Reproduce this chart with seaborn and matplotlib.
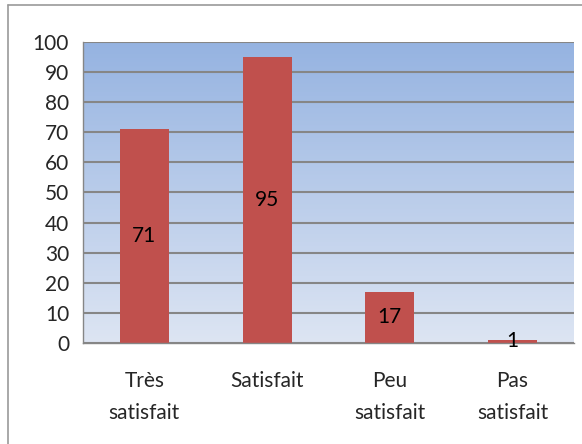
import numpy as np
import pandas as pd
import matplotlib
matplotlib.use("Agg")
import matplotlib.pyplot as plt
from matplotlib.lines import Line2D
import seaborn as sns

categories = ["Très\nsatisfait", "Satisfait", "Peu\nsatisfait", "Pas\nsatisfait"]
values = [71, 95, 17, 1]
y_ticks = [0, 10, 20, 30, 40, 50, 60, 70, 80, 90, 100]

sns.set_style("white")
plt.rcParams["font.family"] = ["Lato", "DejaVu Sans"]

df = pd.DataFrame({"cat": categories, "val": values})

fig = plt.figure(figsize=(5.82, 4.44), dpi=100)
ax = fig.add_axes([83/582, 1-343/444, (574-83)/582, (343-42)/444])

# gradient background
top = np.array([149, 179, 225]) / 255
bot = np.array([221, 229, 243]) / 255
t = np.linspace(0, 1, 256)[:, None]
grad = (top[None, :] * (1 - t) + bot[None, :] * t)[:, None, :]
ax.imshow(grad, extent=[0, 1, 0, 1], transform=ax.transAxes, aspect="auto", zorder=-2)

sns.barplot(data=df, x="cat", y="val", color="#C0504D", saturation=1, width=0.4,
            linewidth=0, edgecolor="none", ax=ax, zorder=2)

ax.set_ylim(0, 100)
ax.set_xlim(-0.5, len(categories) - 0.5)
ax.set_yticks(y_ticks)
ax.set_yticklabels([str(v) for v in y_ticks], fontsize=15)
ax.yaxis.grid(True, color="#868686", linewidth=1.5, zorder=0)
ax.set_axisbelow(True)
ax.set_xlabel("")
ax.set_ylabel("")

ax.set_xticks(range(len(categories)))
ax.set_xticklabels(categories, fontsize=15, linespacing=1.75)
ax.tick_params(axis="x", length=0, pad=20)
ax.set_xticks(np.arange(-0.5, len(categories), 1.0), minor=True)
ax.tick_params(axis="x", which="minor", length=7, width=1, color="#868686", direction="out")
ax.tick_params(axis="y", length=7, width=1, color="#868686", direction="out", pad=3)

for s in ["top", "right"]:
    ax.spines[s].set_visible(False)
for s in ["left", "bottom"]:
    ax.spines[s].set_color("#868686")
    ax.spines[s].set_linewidth(1)

for c in ax.containers:
    ax.bar_label(c, labels=[str(v) for v in values], label_type="center", fontsize=15, color="black")

# outer chart border (partially cropped in reference)
fig.add_artist(Line2D([8/582, 8/582], [0, 1-5/444], transform=fig.transFigure, color="#9a9a9a", lw=1.2))
fig.add_artist(Line2D([8/582, 1], [1-5/444, 1-5/444], transform=fig.transFigure, color="#9a9a9a", lw=1.2))

fig.savefig("out.png", dpi=100, facecolor="white")
